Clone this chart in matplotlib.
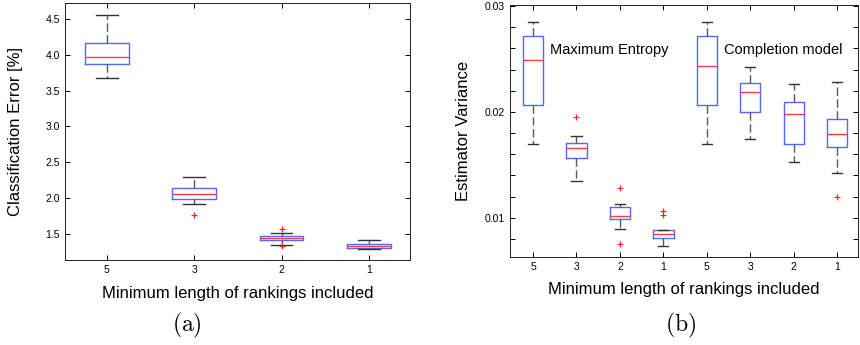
import numpy as np
import matplotlib.pyplot as plt

plt.rcParams['font.family'] = ['Liberation Sans', 'DejaVu Sans']
plt.rcParams['mathtext.fontset'] = 'cm'

# (a) classification error, one box per minimum ranking length
labels_a = ['5', '3', '2', '1']
med_a = [3.98, 2.05, 1.444, 1.33]
q1_a = [3.88, 1.99, 1.416, 1.304]
q3_a = [4.17, 2.136, 1.467, 1.354]
lo_a = [3.68, 1.91, 1.34, 1.29]
hi_a = [4.56, 2.29, 1.514, 1.416]
fl_a = [[], [1.76], [1.56, 1.326], []]

# (b) estimator variance: Maximum Entropy (first 4) then Completion model (last 4)
labels_b = ['5', '3', '2', '1', '5', '3', '2', '1']
med_b = [0.0249, 0.01662, 0.0102, 0.00847, 0.02434, 0.02193, 0.01984, 0.01793]
q1_b = [0.02065, 0.01563, 0.00993, 0.00809, 0.02065, 0.01997, 0.0170, 0.01665]
q3_b = [0.02714, 0.01709, 0.01104, 0.00884, 0.02714, 0.0227, 0.02096, 0.01932]
lo_b = [0.01702, 0.01346, 0.00893, 0.00732, 0.01702, 0.01746, 0.01532, 0.01423]
hi_b = [0.02853, 0.01774, 0.01135, 0.00884, 0.02853, 0.02425, 0.02263, 0.02286]
fl_b = [[], [0.01953], [0.01284, 0.00756], [0.0106, 0.0103], [], [], [], [0.01193]]


def stats(med, q1, q3, lo, hi, fl):
    return [dict(med=m, q1=a, q3=b, whislo=l, whishi=h, fliers=f)
            for m, a, b, l, h, f in zip(med, q1, q3, lo, hi, fl)]


box_kw = dict(
    showfliers=True,
    boxprops=dict(color='#5567ff', lw=1.0),
    medianprops=dict(color='#ff3b3b', lw=1.0),
    whiskerprops=dict(color='#5a5a5a', lw=1.0, linestyle=(0, (6, 2.5))),
    capprops=dict(color='#333333', lw=1.0),
    flierprops=dict(marker='+', markeredgecolor='#ff2020', markersize=5, markeredgewidth=0.9),
)


def style(ax):
    ax.tick_params(direction='in', top=True, right=True, labelsize=7.5, length=3.5, width=0.7)
    for s in ax.spines.values():
        s.set_linewidth(0.7)
        s.set_color('#222222')


fig = plt.figure(figsize=(8.6, 3.45), dpi=100)

ax1 = fig.add_axes([0.0756, 0.2464, 0.401, 0.745])
ax1.bxp(stats(med_a, q1_a, q3_a, lo_a, hi_a, fl_a), positions=range(1, 5),
        widths=0.5, **box_kw)
ax1.set_xlim(0.52, 4.47)
ax1.set_ylim(1.13, 4.73)
ax1.set_xticks(range(1, 5))
ax1.set_xticklabels(labels_a)
ax1.set_yticks([1.5, 2.0, 2.5, 3.0, 3.5, 4.0, 4.5])
ax1.set_yticklabels(['%.1f' % v for v in [1.5, 2.0, 2.5, 3.0, 3.5, 4.0, 4.5]])
style(ax1)
ax1.set_ylabel('Classification Error [%]', fontsize=12, labelpad=16)
ax1.set_xlabel('Minimum length of rankings included', fontsize=12, labelpad=8)

ax2 = fig.add_axes([0.593, 0.255, 0.4047, 0.7304])
ax2.bxp(stats(med_b, q1_b, q3_b, lo_b, hi_b, fl_b), positions=range(1, 9),
        widths=0.47, **box_kw)
ax2.set_xlim(0.47, 8.48)
ax2.set_ylim(0.0063, 0.0301)
ax2.set_xticks(range(1, 9))
ax2.set_xticklabels(labels_b)
yt = np.arange(0.008, 0.0301, 0.002)
ax2.set_yticks(yt)
ax2.set_yticklabels(['%.2f' % v if abs(v * 100 - round(v * 100)) < 1e-6 else '' for v in yt])
style(ax2)
ax2.set_ylabel('Estimator Variance', fontsize=12, labelpad=10)
ax2.set_xlabel('Minimum length of rankings included', fontsize=12, labelpad=7)
ax2.text(1.4, 0.0259, 'Maximum Entropy', fontsize=10.5, va='center')
ax2.text(5.4, 0.0259, 'Completion model', fontsize=10.5, va='center')

fig.text(187 / 860, 1 - 325 / 345, r'$\mathrm{(a)}$', fontsize=17, ha='center', va='center')
fig.text(681 / 860, 1 - 325 / 345, r'$\mathrm{(b)}$', fontsize=17, ha='center', va='center')

fig.savefig('out.png', dpi=100)
